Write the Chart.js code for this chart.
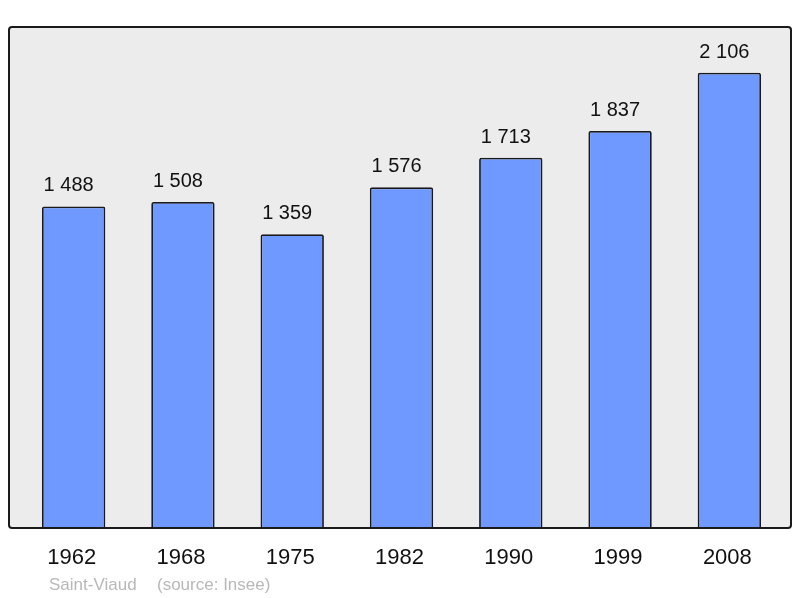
<!DOCTYPE html>
<html>
<head>
<meta charset="utf-8">
<script src="https://cdn.jsdelivr.net/npm/chart.js@4/dist/chart.umd.min.js"></script>
<style>
  html, body { margin: 0; padding: 0; background: #fff; }
  #wrap { width: 800px; height: 598px; }
</style>
</head>
<body>
<div id="wrap"><canvas id="chart-area" width="800" height="598"></canvas></div>
<script>
const years = ['1962', '1968', '1975', '1982', '1990', '1999', '2008']
const population = [1488, 1508, 1359, 1576, 1713, 1837, 2106]
const townName = 'Saint-Viaud'
const sourceNote = '(source: Insee)'

// "1 488" style labels
function fmt(v) {
    return String(v).replace(/\B(?=(\d{3})+(?!\d))/g, ' ')
}

const framePlugin = {
    id: 'frame',
    beforeDraw(chart) {
        const ctx = chart.ctx
        const a = chart.chartArea
        const x = a.left - 10, y = a.top, w = a.right - a.left + 17, h = a.bottom - a.top
        ctx.save()
        ctx.beginPath()
        ctx.roundRect(x, y, w, h, 3)
        ctx.fillStyle = '#ececec'
        ctx.fill()
        ctx.restore()
    },
    afterDatasetsDraw(chart) {
        const ctx = chart.ctx
        const a = chart.chartArea
        const x = a.left - 10, y = a.top, w = a.right - a.left + 17, h = a.bottom - a.top
        ctx.save()
        ctx.beginPath()
        ctx.roundRect(x, y, w, h, 3)
        ctx.lineWidth = 2
        ctx.strokeStyle = '#1a1a1a'
        ctx.stroke()

        // value labels above bars, sitting a little left of centre like the original
        ctx.font = '20px "Liberation Sans", Arial, sans-serif'
        ctx.fillStyle = '#111'
        ctx.textAlign = 'center'
        ctx.textBaseline = 'alphabetic'
        chart.getDatasetMeta(0).data.forEach((bar, i) => {
            ctx.fillText(fmt(population[i]), bar.x - 5, bar.y - 15)
        })

        // source line
        ctx.font = '17px "Liberation Sans", Arial, sans-serif'
        ctx.fillStyle = '#b8b8b8'
        ctx.textAlign = 'left'
        ctx.fillText(townName, a.left + 30, 590)
        ctx.fillText(sourceNote, a.left + 138, 590)
        ctx.restore()
    }
}

const ctx = document.getElementById('chart-area').getContext('2d')
new Chart(ctx, {
    type: 'bar',
    data: {
        labels: years,
        datasets: [{
            data: population,
            backgroundColor: '#7099ff',
            borderColor: '#1a1a1a',
            borderWidth: 1.8,
            borderRadius: 2,
            borderSkipped: 'bottom',
            barPercentage: 0.58,
            categoryPercentage: 1
        }]
    },
    options: {
        responsive: false,
        animation: false,
        events: [],
        layout: { padding: { left: 19, right: 16, top: 27, bottom: 0 } },
        plugins: {
            legend: { display: false },
            tooltip: { enabled: false }
        },
        scales: {
            x: {
                grid: { display: false, drawTicks: false },
                border: { display: false },
                ticks: {
                    color: '#111',
                    font: { size: 22, family: '"Liberation Sans", Arial, sans-serif' },
                    padding: 17,
                    labelOffset: -2
                },
                afterFit(scale) { scale.height = 70 }
            },
            y: {
                display: false,
                min: 0,
                max: 2318
            }
        }
    },
    plugins: [framePlugin]
})
</script>
</body>
</html>
